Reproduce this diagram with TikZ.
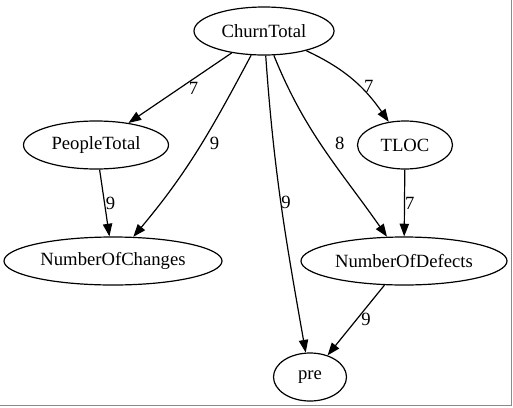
\documentclass[tikz,border=0pt]{standalone}
\usepackage{fontspec}
\setmainfont{Liberation Serif}
\usepackage{tikz}
\usetikzlibrary{arrows.meta, positioning, shapes.geometric}
\definecolor{frameGray}{HTML}{8A8A8A}

\begin{document}
\begin{tikzpicture}[
  x=0.75pt, y=-0.75pt,
  font=\rmfamily\fontsize{14}{16}\selectfont,
  vertex/.style={draw, ellipse, line width=0.9pt, minimum height=36pt, inner sep=0pt},
  link/.style={-{Triangle[length=9.5pt, width=7pt]}, line width=0.9pt},
  weight/.style={inner sep=0pt}
]
  \useasboundingbox (0,0) rectangle (513,407);
  \draw[frameGray, line width=1.1pt] (511.5,0) -- (511.5,405.5) -- (0,405.5);

  % nodes
  \node[vertex, minimum width=105pt] (churn) at (264,31) {ChurnTotal};
  \node[vertex, minimum width=108.75pt] (people) at (96,145) {PeopleTotal};
  \node[vertex, minimum width=71.25pt] (tloc) at (405,145) {TLOC};
  \node[vertex, minimum width=163.5pt] (changes) at (113,261) {NumberOfChanges};
  \node[vertex, minimum width=154.5pt] (defects) at (404,261) {NumberOfDefects};
  \node[vertex, minimum width=54.75pt] (pre) at (310,377) {pre};

  % edges
  \draw[link] (churn) -- node[weight, right=6.2pt] {7} (people);
  \draw[link] (churn) to[out=242, in=50] node[weight, pos=0.46, right=5.5pt] {9} (changes);
  \draw[link] (churn) to[out=274, in=100] node[weight, pos=0.49, right=0pt] {9} (pre);
  \draw[link] (churn) to[out=292, in=125] node[weight, pos=0.46, right=11pt] {8} (defects);
  \draw[link] (churn) to[out=335, in=125] node[weight, pos=0.5, right=8pt, yshift=-5pt] {7} (tloc);
  \draw[link] (people) -- node[weight, right=0.5pt] {9} (changes);
  \draw[link] (tloc) -- node[weight, right=0pt] {7} (defects);
  \draw[link] (defects) -- node[weight, right=3.5pt, yshift=1pt] {9} (pre);
\end{tikzpicture}
\end{document}
